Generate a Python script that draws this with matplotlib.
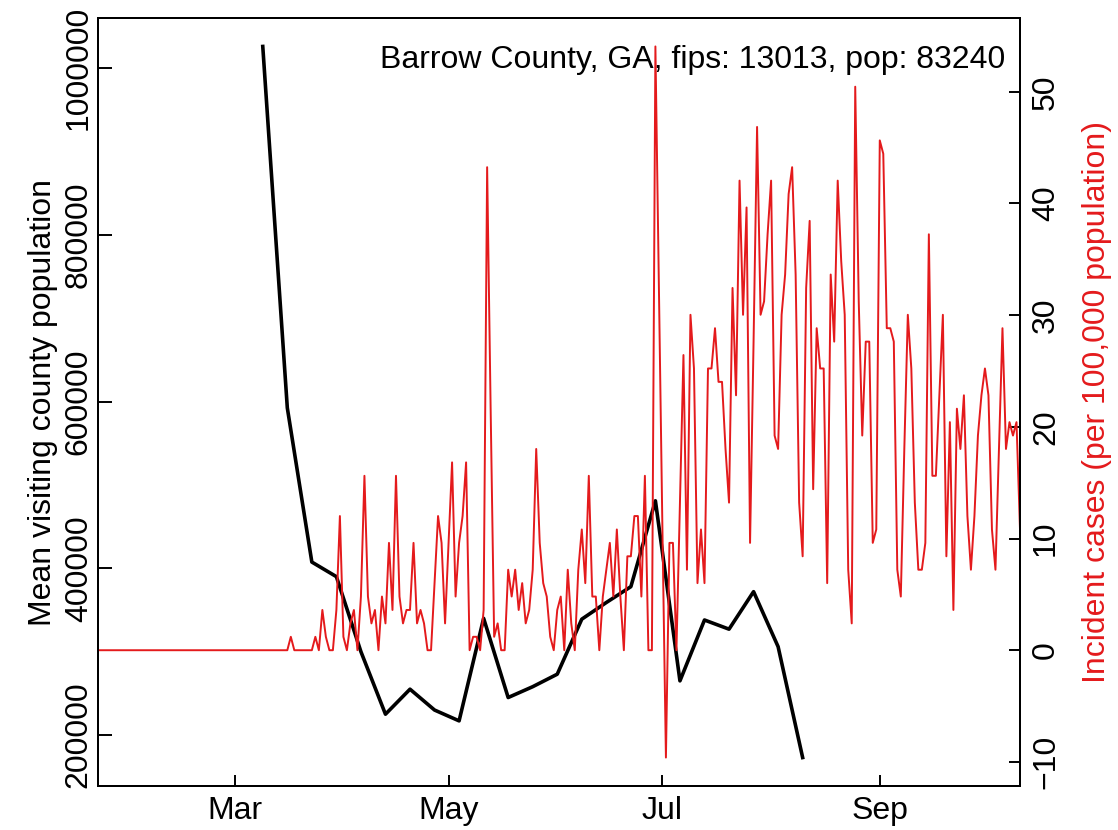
import numpy as np
import pandas as pd
import matplotlib
matplotlib.use("Agg")
from matplotlib import pyplot as plt

plt.rcParams["font.family"] = ["Liberation Sans", "DejaVu Sans"]

county_title = "Barrow County, GA, fips: 13013, pop: 83240"
county_pop = 83240

# weekly mean visiting county population (black line)
visit_start = "2020-03-09"
visit_pop = [1026000, 592500, 407500, 390000, 300000, 225000, 255000, 230000,
             217000, 340000, 245000, 258000, 273000, 339000, 359000, 378000,
             481000, 265000, 338000, 327000, 372000, 306000, 173000]

# daily new cases (red line), first day 2020-01-22
case_start = "2020-01-22"
cases_jan_mar = [0] * 55  # Jan 22 - Mar 16, flat at zero
cases_mar = [1, 0, 0, 0, 0, 0, 0, 1, 0, 3, 1, 0, 0, 3, 10]
cases_apr = [1, 0, 2, 3, 0, 4, 13, 4, 2, 3, 0, 4, 2, 8, 3, 13, 4, 2, 3, 3,
             8, 2, 3, 2, 0, 0, 5, 10, 8, 2]
cases_may = [8, 14, 4, 8, 10, 14, 0, 1, 1, 0, 3, 36, 18, 1, 2, 0, 0, 6, 4, 6,
             3, 5, 2, 3, 6, 15, 8, 5, 4, 1, 0]
cases_jun = [3, 4, 0, 6, 2, 0, 6, 9, 5, 13, 4, 4, 0, 4, 6, 8, 4, 9, 4, 0,
             7, 7, 10, 10, 4, 13, 0, 0, 45, 27]
cases_jul = [9, -8, 8, 8, 0, 11, 22, 6, 25, 21, 5, 9, 5, 21, 21, 24, 20, 20, 15, 11,
             27, 19, 35, 25, 33, 8, 23, 39, 25, 26, 31]
cases_aug = [35, 16, 15, 25, 28, 34, 36, 28, 11, 7, 27, 32, 12, 24, 21, 21, 5, 28, 23, 35,
             29, 25, 6, 2, 42, 26, 16, 23, 23, 8, 9]
cases_sep = [38, 37, 24, 24, 23, 6, 4, 15, 25, 21, 11, 6, 6, 8, 31, 13, 13, 19, 25, 7,
             17, 3, 18, 15, 19, 10, 6, 10, 16, 19]
cases_oct = [21, 19, 9, 6, 15, 24, 15, 17, 16, 17, 9]

month_ticks = ["2020-03-01", "2020-05-01", "2020-07-01", "2020-09-01"]
month_labels = ["Mar", "May", "Jul", "Sep"]
left_ticks = [200000, 400000, 600000, 800000, 1000000]
right_ticks = [-10, 0, 10, 20, 30, 40, 50]

red = "#E41A1C"

cases = (cases_jan_mar + cases_mar + cases_apr + cases_may + cases_jun
         + cases_jul + cases_aug + cases_sep + cases_oct)
case_dates = pd.date_range(case_start, periods=len(cases), freq="D")
case_rate = np.array(cases) / county_pop * 100000
visit_dates = pd.date_range(visit_start, periods=len(visit_pop), freq="7D")

fig = plt.figure(figsize=(11.18, 8.3), dpi=100)
ax = fig.add_axes([98 / 1118, 1 - 786 / 830, 922 / 1118, 768 / 830])
ax2 = ax.twinx()

ax.plot(visit_dates, visit_pop, color="black", lw=2.6, solid_joinstyle="round")
ax2.plot(case_dates, case_rate, color=red, lw=1.4)

ax.set_xlim(case_dates[0], case_dates[-1])
ax.margins(y=0.04)
ax2.margins(y=0.04)

ax.set_xticks(pd.to_datetime(month_ticks))
ax.set_xticklabels(month_labels)
ax.set_yticks(left_ticks)
ax.set_yticklabels([str(v) for v in left_ticks], rotation=90, va="center")
ax2.set_yticks(right_ticks)
ax2.set_yticklabels([str(v).replace("-", "\u2212") for v in right_ticks],
                    rotation=90, va="center")

ax.tick_params(axis="x", direction="in", length=8, width=1.4, labelsize=23, pad=7)
ax.tick_params(axis="y", direction="in", length=10, width=1.4, labelsize=23, pad=3)
ax2.tick_params(axis="y", direction="in", length=8, width=1.4, labelsize=23, pad=8)
for a in (ax, ax2):
    for s in a.spines.values():
        s.set_linewidth(1.4)

ax.set_ylabel("Mean visiting county population", fontsize=23, va="center")
ax.yaxis.set_label_coords(-0.0597, 0.5)
ax2.set_ylabel("Incident cases (per 100,000 population)", fontsize=23,
               color=red, va="center")
ax2.yaxis.set_label_coords(1.0835, 0.5)

ax.text(0.984, 0.945, county_title, transform=ax.transAxes, ha="right",
        va="center", fontsize=23)

fig.savefig("out.png", dpi=100)
